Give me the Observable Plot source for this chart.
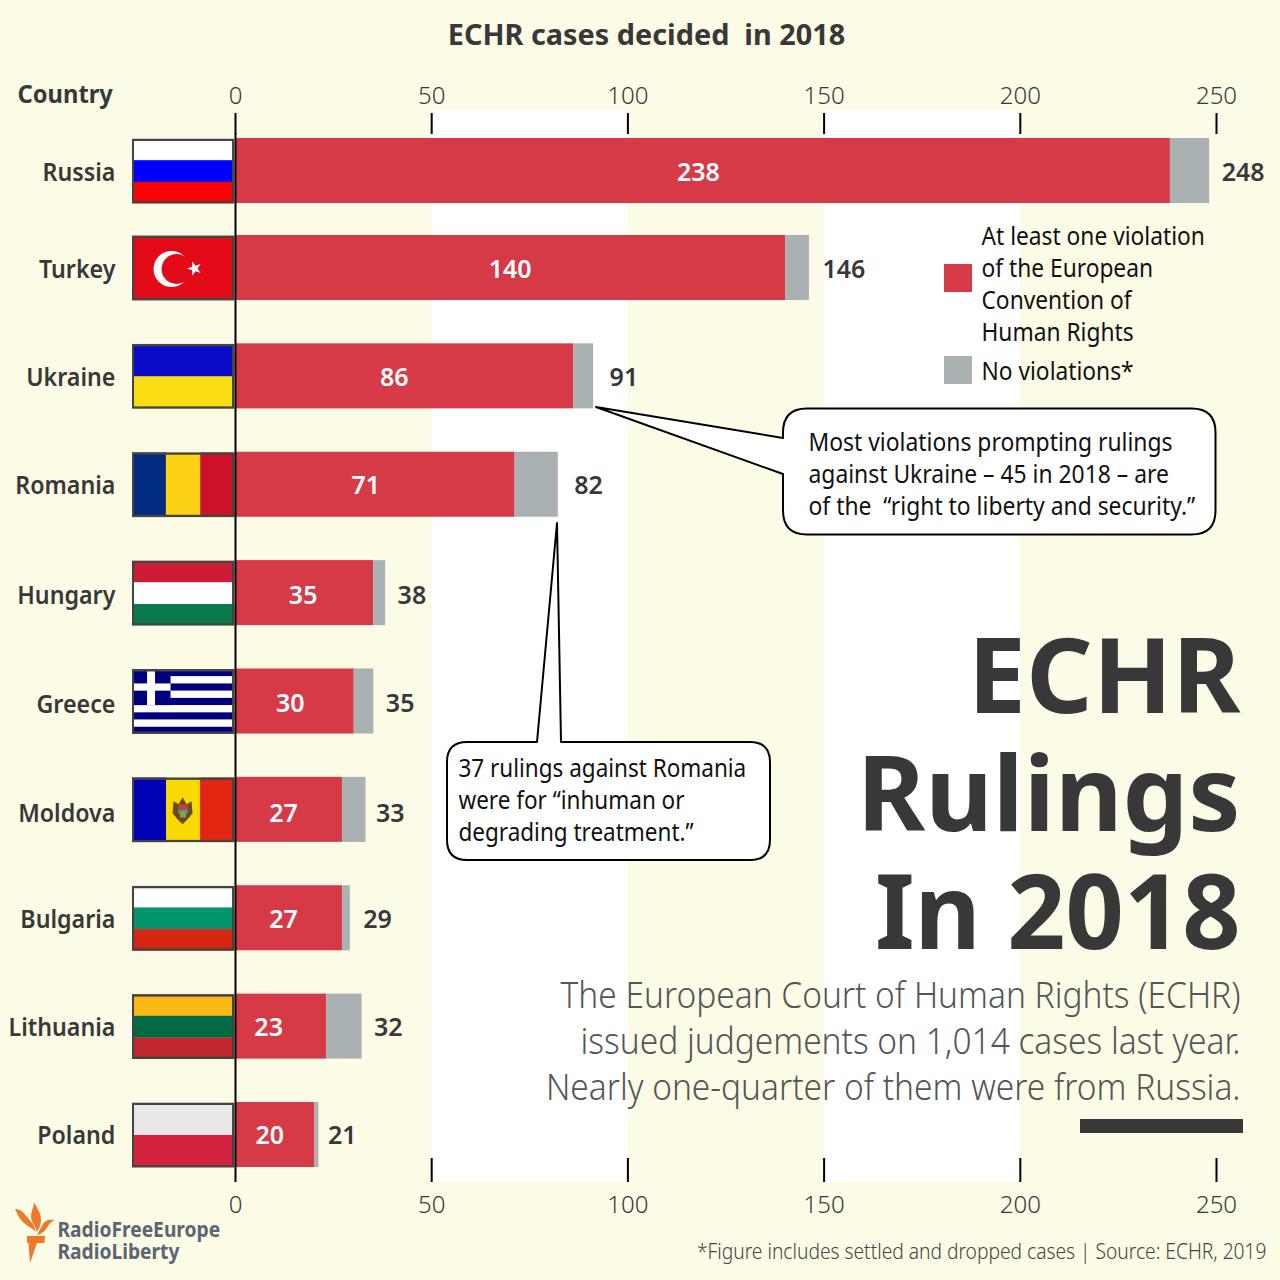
<!DOCTYPE html>
<html><head><meta charset="utf-8">
<script src="https://cdn.jsdelivr.net/npm/d3@7"></script>
<script src="https://cdn.jsdelivr.net/npm/@observablehq/plot@0.6"></script>
<style>html,body{margin:0;padding:0;background:#fcfbe6}svg{display:block}</style>
</head><body><div id="chart"></div>
<script>
const countries = ["Russia","Turkey","Ukraine","Romania","Hungary","Greece","Moldova","Bulgaria","Lithuania","Poland"];
const violations = [238,140,86,71,35,30,27,27,23,20];
const totals = [248,146,91,82,38,35,33,29,32,21];
const xTicks = [0,50,100,150,200,250];
const bandStarts = [50,150];
const RED="#d63a46", GRAY="#a9b1b2", INK="#383838", BG="#fcfbe6";
const FONT='"Noto Sans", sans-serif';
// hand placement of the reference's labels, in pixels
const insideNudge = {Russia:-4,Turkey:0,Ukraine:-10,Romania:-9,Hungary:-1,Greece:-4,Moldova:-5,Bulgaria:-5,Lithuania:-12,Poland:-5};
const outsideNudge = {Russia:0,Turkey:1,Ukraine:4,Romania:4,Hungary:0,Greece:0,Moldova:-2,Bulgaria:1,Lithuania:0,Poland:-3};
const rowLabelDy = {Russia:3,Turkey:2,Ukraine:2,Romania:1,Hungary:3,Greece:3,Moldova:4,Bulgaria:2,Lithuania:1,Poland:1};
const UNIT = 981/250;

function stripesH(cols){const h=65/cols.length;return cols.map((c,i)=>`<rect x="0" y="${i*h}" width="103" height="${h+.3}" fill="${c}"/>`).join("");}
function stripesV(cols,w){let x=0;return cols.map((c,i)=>{const s=`<rect x="${x}" y="0" width="${w[i]+.3}" height="65" fill="${c}"/>`;x+=w[i];return s;}).join("");}
const greece=(()=>{let s='';for(let i=0;i<9;i++)s+=`<rect x="0" y="${i*65/9}" width="103" height="${65/9+.2}" fill="${i%2?'#fff':'#00007f'}"/>`;
 s+=`<rect x="0" y="0" width="39" height="${5*65/9}" fill="#00007f"/><rect x="0" y="${2*65/9}" width="39" height="${65/9}" fill="#fff"/><rect x="15.5" y="0" width="8" height="${5*65/9}" fill="#fff"/>`;return s;})();
const starPts=d3.range(10).map(i=>{const a=Math.PI+i*Math.PI/5,r=i%2?3:7.5;return `${(63+r*Math.cos(a)).toFixed(2)},${(33+r*Math.sin(a)).toFixed(2)}`;}).join(" ");
const turkey=`<rect width="103" height="65" fill="#e30a17"/><circle cx="40" cy="33.5" r="18" fill="#fff"/><circle cx="45" cy="33.5" r="15" fill="#e30a17"/><polygon points="${starPts}" fill="#fff"/>`;
const moldova=stripesV(["#0000b4","#f9d900","#e32612"],[34.5,34,34.5])+`<path d="M42 24l5 3 4-7 4 7 5-3 1 12-5 6-5 5-5-5-5-6z" fill="#6a4a1e"/><rect x="46.5" y="27" width="10" height="5" fill="#c2452a"/><rect x="46.5" y="32" width="10" height="4" fill="#4a8fb0"/><rect x="48.5" y="34" width="6" height="6" fill="#8aa838"/>`;
const flagArt = [
 stripesH(["#fff","#0000ff","#ff0000"]), turkey,
 stripesH(["#0a0ac8","#fbdd14"]),
 stripesV(["#002b7f","#fcd116","#ce1126"],[34.3,34.4,34.3]),
 stripesH(["#ce1c36","#fff","#0a7a4a"]), greece, moldova,
 stripesH(["#fff","#00966e","#d62612"]),
 stripesH(["#fdb913","#006a44","#c1272d"]),
 stripesH(["#e8e8e8","#d4213d"])
];
const flagUri = art => "data:image/svg+xml;utf8,"+encodeURIComponent(`<svg xmlns="http://www.w3.org/2000/svg" width="103" height="65" viewBox="0 0 103 65" preserveAspectRatio="none">${art}<rect x="1.25" y="1.25" width="100.5" height="62.5" fill="none" stroke="#444" stroke-width="2.5"/></svg>`);

const rows = countries.map((country,i)=>({country,violations:violations[i],total:totals[i],flag:flagUri(flagArt[i])}));

const TOP=133, BOTTOM=1158;
const narrow = new Map(); // line of text -> share of its natural width
function rowMarks(r){
 const data=[r], dy=r.country==="Russia"?11.4:0, ty=dy===0?rowLabelDy[r.country]:rowLabelDy[r.country]+dy-1;
 narrow.set(r.country,0.93);
 return [
 Plot.barX(data,{y:"country",x1:0,x2:"violations",fill:RED,dy,dx:1}),
 Plot.barX(data,{y:"country",x1:"violations",x2:"total",fill:GRAY,dy,dx:1}),
 Plot.image(data,{x:-13.37,y:"country",src:"flag",width:103,height:65,preserveAspectRatio:"none",dy}),
 Plot.text(data,{x:-30.6,y:"country",text:"country",textAnchor:"end",fontSize:25,fontWeight:600,fill:INK,dy:ty}),
 Plot.text(data,{x:d=>d.violations/2+insideNudge[d.country]/UNIT,y:"country",text:d=>String(d.violations),fontSize:25,fontWeight:600,fill:"#fff",dy:ty}),
 Plot.text(data,{x:d=>d.total+outsideNudge[d.country]/UNIT,y:"country",text:d=>String(d.total),dx:13,textAnchor:"start",fontSize:25,fontWeight:600,fill:INK,dy:ty})
];}
function label(text,px,py,opts={},f=1){narrow.set(text,f);return Plot.text([text],{text:d=>d,frameAnchor:"top-left",dx:px,dy:py-TOP,lineAnchor:"bottom",textAnchor:"start",...opts});}
function lines(list,px,firstBaseline,step,opts,f=()=>1){return list.map((t,i)=>label(t,px,firstBaseline+i*step,opts,f(i)));}
function swatch(x,y,s,fill){return ()=>d3.create("svg:rect").attr("x",x).attr("y",y).attr("width",s).attr("height",s).attr("fill",fill).node();}
function shape(d,attrs){return ()=>{const p=d3.create("svg:path").attr("d",d);for(const k in attrs)p.attr(k,attrs[k]);return p.node();};}
function callout(l,t,r,b,rad,pointer){
 const [a,tip,c,side]=pointer;
 let d;
 if(side==="left") d=`M${l+rad} ${t}H${r-rad}Q${r} ${t} ${r} ${t+rad}V${b-rad}Q${r} ${b} ${r-rad} ${b}H${l+rad}Q${l} ${b} ${l} ${b-rad}V${c[1]}L${tip[0]} ${tip[1]}L${l} ${a[1]}V${t+rad}Q${l} ${t} ${l+rad} ${t}Z`;
 else d=`M${l+rad} ${t}H${a[0]}L${tip[0]} ${tip[1]}L${c[0]} ${t}H${r-rad}Q${r} ${t} ${r} ${t+rad}V${b-rad}Q${r} ${b} ${r-rad} ${b}H${l+rad}Q${l} ${b} ${l} ${b-rad}V${t+rad}Q${l} ${t} ${l+rad} ${t}Z`;
 return shape(d,{fill:"#fff",stroke:"#000","stroke-width":2,"stroke-linejoin":"round"});
}
const body={fontSize:25,fill:"#111"};

const plot = Plot.plot({
 width:1280,height:1280,marginLeft:0,marginRight:0,marginTop:TOP,marginBottom:1280-BOTTOM,
 style:{background:BG,fontFamily:FONT,overflow:"visible"},
 x:{domain:[0,250],range:[235,1216]},
 y:{type:"band",domain:countries,range:[83.26,1210.36],padding:0.4,round:false,axis:null},
 marks:[
  Plot.rectX(bandStarts,{x1:d=>d,x2:d=>d+50,fill:"#fff",insetTop:-23,insetBottom:-24}),
  ...rows.flatMap(rowMarks),
  Plot.axisX({anchor:"top",ticks:xTicks,tickSize:21,tickPadding:9,fontSize:24,fontWeight:300,tickFormat:String,label:null,stroke:"#000",fill:INK,strokeWidth:2}),
  Plot.axisX({anchor:"bottom",ticks:xTicks,tickSize:24,tickPadding:13,fontSize:24,fontWeight:300,tickFormat:String,label:null,stroke:"#000",fill:INK,strokeWidth:2}),
  Plot.ruleX([0],{stroke:"#000",strokeWidth:2}),
  label("ECHR cases decided  in 2018",646,44,{textAnchor:"middle",fontSize:29,fontWeight:700,fill:INK},0.995),
  label("Country",17,102,{fontSize:25,fontWeight:700,fill:INK},0.95),
  swatch(944,264,28,RED),swatch(944,356,28,GRAY),
  ...lines(["At least one violation","of the European","Convention of","Human Rights"],981,244,32,body,()=>0.91),
  label("No violations*",981,379,body,0.91),
  callout(783,408.5,1215.5,534.5,24,[[783,438],[596,407],[783,474],"left"]),
  callout(447,742,770,860,20,[[537,742],[557,523],[561,742],"top"]),
  ...lines(["Most violations prompting rulings","against Ukraine – 45 in 2018 – are","of the  “right to liberty and security.”"],808,450,32,body,()=>0.915),
  ...lines(["37 rulings against Romania","were for “inhuman or","degrading treatment.”"],458,776,32,body,()=>0.9),
  ...lines(["ECHR","Rulings","In 2018"],1240,712,118,{textAnchor:"end",fontSize:104,fontWeight:700,fill:INK},i=>i===2?0.98:1),
  ...lines(["The European Court of Human Rights (ECHR)","issued judgements on 1,014 cases last year.","Nearly one-quarter of them were from Russia."],1240,1007,46,{textAnchor:"end",fontSize:36,fontWeight:300,fill:"#555"},()=>0.93),
  ()=>d3.create("svg:rect").attr("x",1080).attr("y",1119).attr("width",163).attr("height",14).attr("fill",INK).node(),
  shape("M15 1209C21 1209 25 1214 28 1218C31 1222 34 1224 36 1232C31 1227 25 1225 21 1220C18 1216 17 1213 15 1209Z",{fill:"#ec7a2a"}),
  shape("M34 1202C36 1207 41 1212 41 1220C41 1225 39 1228 37 1232C36 1227 31 1222 31 1216C31 1211 34 1207 34 1202Z",{fill:"#ec7a2a"}),
  shape("M55 1220C50 1219 45 1220 43 1224C41 1228 39 1231 37 1235C42 1234 46 1230 48 1226C50 1223 52 1221 55 1220Z",{fill:"#ec7a2a"}),
  shape("M27 1236H45L44.5 1243H37L30 1263L28.5 1243H27Z",{fill:"#ec7a2a"}),
  ...lines(["RadioFreeEurope","RadioLiberty"],57,1236,22,{fontSize:21,fontWeight:700,fill:"#5a6672"},()=>0.915),
  label("*Figure includes settled and dropped cases | Source: ECHR, 2019",1266,1258,{textAnchor:"end",fontSize:21,fontWeight:300,fill:"#444"},0.915)
 ]
});
document.getElementById("chart").appendChild(plot);

// The reference's typeface is narrower than any installed one: narrow each line about its anchor.
plot.querySelectorAll("text").forEach(t=>{
 const f=narrow.get(t.textContent);
 if(!f||f===1) return;
 t.setAttribute("transform",(t.getAttribute("transform")||"")+` scale(${f},1)`);
});
</script></body></html>
